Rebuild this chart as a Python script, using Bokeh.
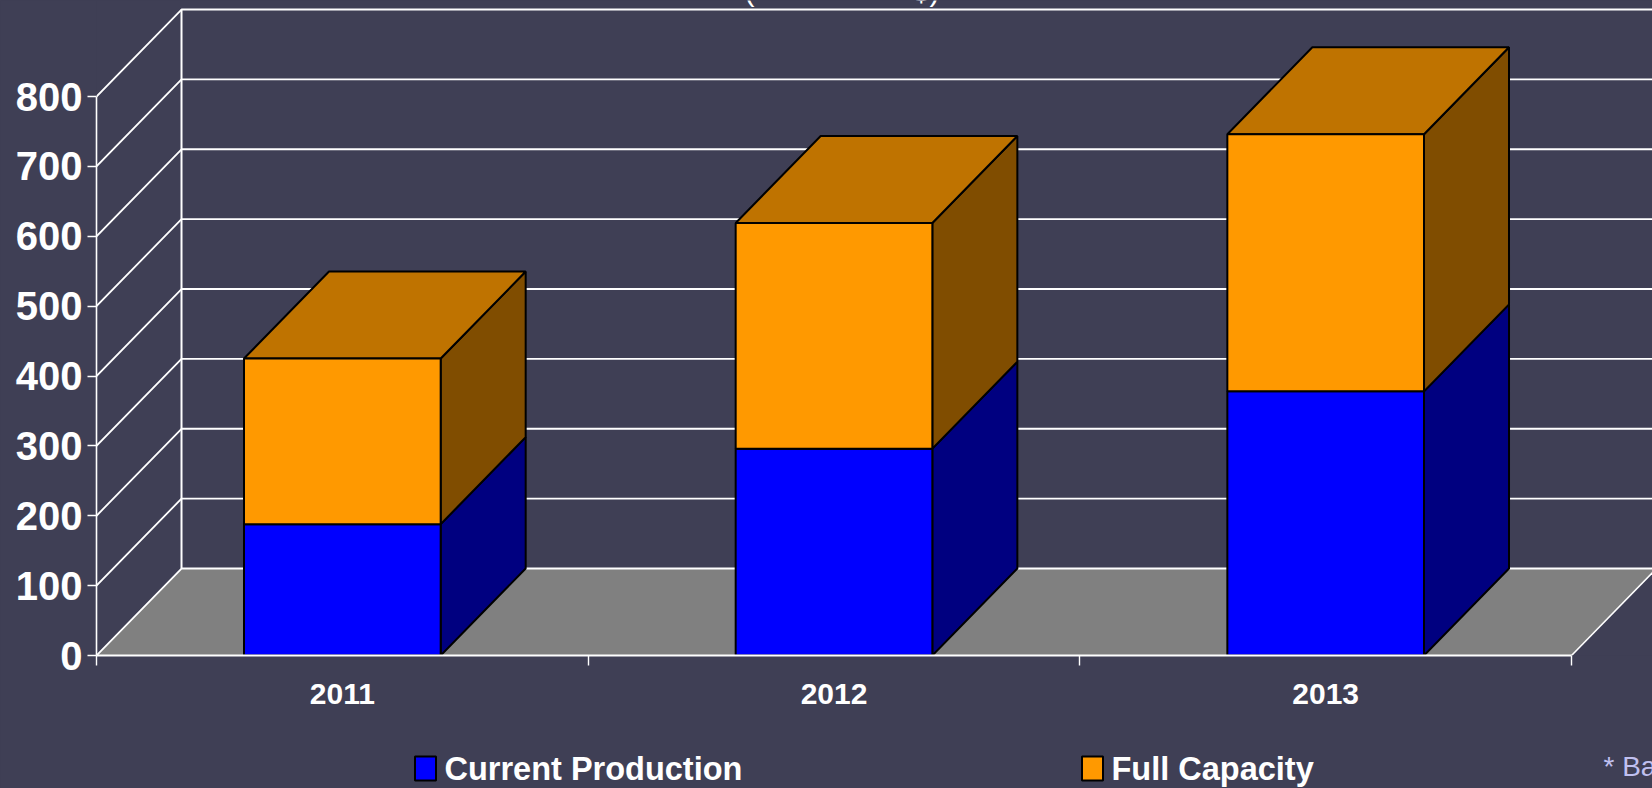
from bokeh.plotting import figure
from bokeh.embed import file_html
from bokeh.resources import INLINE
from bokeh.models import (Range1d, FixedTicker, Label)

# ---- data ----
years = ["2011", "2012", "2013"]
series_names = ["Current Production", "Full Capacity"]
series_colors = ["#0000ff", "#ff9900"]
current_production = [188, 296, 378]
full_capacity = [237, 323, 368]
y_ticks = [0, 100, 200, 300, 400, 500, 600, 700, 800]

# ---- style / geometry ----
BG = "#3f3f55"
FONT = "Liberation Sans"
DX, DY = 0.1729, 124.5     # 3-D depth vector in data units
BAR_W = 0.4

x_pos = [i + 1 for i in range(len(years))]
x0, x1 = 0.5, 3.5
yt = y_ticks[-1]

p = figure(width=1652, height=788, output_backend="svg", toolbar_location=None,
           min_border=0, min_border_left=96, min_border_right=0, min_border_top=0,
           min_border_bottom=133, frame_width=1556, frame_height=655,
           x_range=Range1d(0.5, 0.5 + 1556 / 491.67),
           y_range=Range1d(0, 655 / 0.69875),
           background_fill_color=BG, border_fill_color=BG, outline_line_color=None)
p.xgrid.visible = False
p.ygrid.visible = False

# floor
p.patch([x0, x1, x1 + DX, x0 + DX], [0, 0, DY, DY], fill_color="#808080", line_color=None)

# walls
p.multi_line([[x0, x0 + DX, x1 + DX] for v in y_ticks],
             [[v, v + DY, v + DY] for v in y_ticks], line_color="white", line_width=1.8)
p.line([x0 + DX, x0 + DX], [DY, yt + DY], line_color="white", line_width=2)
p.line([x1, x1 + DX], [0, DY], line_color="white", line_width=1.6)


def side(x, lo, hi):
    r = x + BAR_W / 2
    return [r, r + DX, r + DX, r], [lo, lo + DY, hi + DY, hi]


def top(x, h):
    l, r = x - BAR_W / 2, x + BAR_W / 2
    return [l, r, r + DX, l + DX], [h, h, h + DY, h + DY]


edge = dict(line_color="black", line_width=2)
totals = [a + b for a, b in zip(current_production, full_capacity)]

sx, sy = zip(*[side(x, 0, a) for x, a in zip(x_pos, current_production)])
p.patches(list(sx), list(sy), fill_color="#000080", **edge)
sx, sy = zip(*[side(x, a, t) for x, a, t in zip(x_pos, current_production, totals)])
p.patches(list(sx), list(sy), fill_color="#804d00", **edge)
tx, ty = zip(*[top(x, t) for x, t in zip(x_pos, totals)])
p.patches(list(tx), list(ty), fill_color="#bf7300", **edge)

p.vbar(x=x_pos, width=BAR_W, bottom=0, top=current_production, fill_color=series_colors[0], **edge)
p.vbar(x=x_pos, width=BAR_W, bottom=current_production, top=totals, fill_color=series_colors[1], **edge)

# axes
xa = p.xaxis[0]
xa.ticker = FixedTicker(ticks=x_pos, minor_ticks=[0.5, 1.5, 2.5, 3.5])
xa.major_label_overrides = {x: y for x, y in zip(x_pos, years)}
xa.bounds = (x0, x1)
xa.major_tick_out = 0
xa.major_tick_in = 0
xa.minor_tick_out = 10
xa.minor_tick_in = 0
xa.minor_tick_line_color = "white"
xa.minor_tick_line_width = 1.4
xa.axis_line_color = "white"
xa.axis_line_width = 2
xa.major_label_text_color = "white"
xa.major_label_text_font = FONT
xa.major_label_text_font_style = "bold"
xa.major_label_text_font_size = "30px"
xa.major_label_standoff = 18
xa.level = "overlay"

ya = p.yaxis[0]
ya.ticker = FixedTicker(ticks=y_ticks)
ya.bounds = (0, yt)
ya.major_tick_out = 9
ya.major_tick_in = 0
ya.minor_tick_out = 0
ya.minor_tick_in = 0
ya.major_tick_line_color = "white"
ya.major_tick_line_width = 1.4
ya.axis_line_color = "white"
ya.axis_line_width = 1.6
ya.major_label_text_color = "white"
ya.major_label_text_font = FONT
ya.major_label_text_font_style = "bold"
ya.major_label_text_font_size = "40px"
ya.major_label_standoff = 5
ya.level = "overlay"

# legend row, placed in canvas units so it is not clipped to the plot frame
legend_swatch_x = [425, 1092]
legend_text_x = [444, 1111]
for name, color, sw, tx_ in zip(series_names, series_colors, legend_swatch_x, legend_text_x):
    p.add_layout(Label(x=sw, y=768, x_units="canvas", y_units="canvas", text="\u00a0",
                       text_align="center", text_baseline="middle", text_font=FONT,
                       text_font_size="18px", text_color="white", padding=(8, 2),
                       background_fill_color=color, border_line_color="black",
                       border_line_width=2), "right")
    p.add_layout(Label(x=tx_, y=768, x_units="canvas", y_units="canvas", text=name,
                       text_font=FONT, text_font_style="bold", text_font_size="32.5px",
                       text_color="white", text_baseline="alphabetic"), "right")

# texts at the window edges
p.add_layout(Label(x=1603, y=766, x_units="canvas", y_units="canvas", text="* Ba",
                   text_color="#c0c0f0", text_font=FONT, text_font_size="28px",
                   text_baseline="alphabetic"), "right")
p.add_layout(Label(x=648, y=649, x_units="screen", y_units="screen",
                   text="(" + "\u00a0" * 19 + "$)", level="overlay",
                   text_color="white", text_font=FONT, text_font_size="30px"))

html = file_html(p, INLINE)
html = html.replace("<head>", "<head><style>html,body{margin:0;padding:0;background:#3f3f55;overflow:hidden}</style>", 1)
open("out.html", "w").write(html)
